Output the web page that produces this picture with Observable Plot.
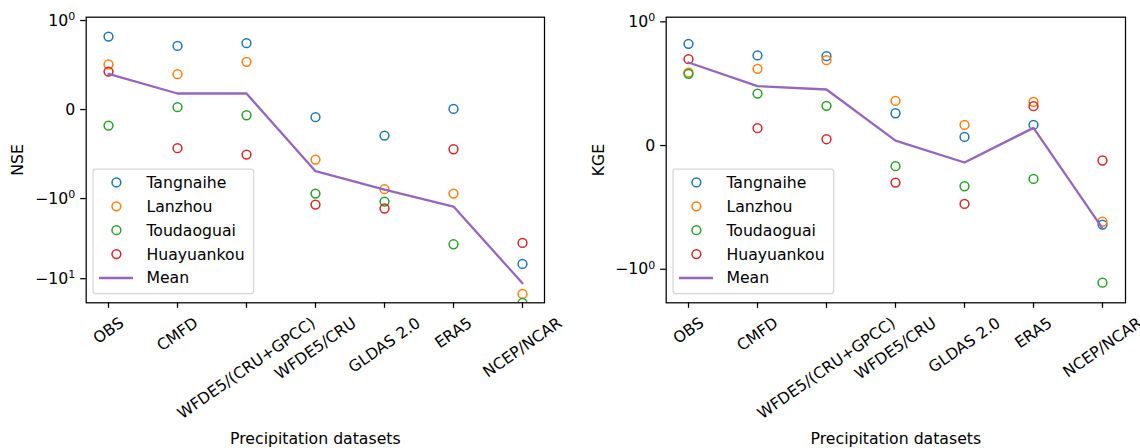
<!DOCTYPE html>
<html>
<head>
<meta charset="utf-8">
<script src="https://cdn.jsdelivr.net/npm/d3@7"></script>
<script src="https://cdn.jsdelivr.net/npm/@observablehq/plot@0.6"></script>
<style>
  html, body { margin: 0; padding: 0; background: #fff; }
  #root { display: flex; width: 1140px; height: 448px; }
  .panel { position: relative; width: 570px; height: 448px; }
  .panel svg.legend { position: absolute; }
</style>
</head>
<body>
<div id="root"></div>
<script>
// ---------- data ----------
const datasets = ["OBS", "CMFD", "WFDE5/(CRU+GPCC)", "WFDE5/CRU", "GLDAS 2.0", "ERA5", "NCEP/NCAR"];
const stations = ["Tangnaihe", "Lanzhou", "Toudaoguai", "Huayuankou"];
const stationColors = ["#1f77b4", "#ff7f0e", "#2ca02c", "#d62728"];
const meanLabel = "Mean";
const meanColor = "#9467bd";

// NSE values per station (order of datasets)
const nseTangnaihe  = [0.82, 0.715, 0.745, -0.086, -0.292, 0.007, -6.54];
const nseLanzhou    = [0.506, 0.397, 0.536, -0.562, -0.895, -0.944, -15.5];
const nseToudaoguai = [-0.18, 0.026, -0.064, -0.944, -1.09, -3.72, -20.0];
const nseHuayuankou = [0.427, -0.434, -0.506, -1.19, -1.33, -0.446, -3.58];
const nseMean       = [0.40, 0.18, 0.18, -0.693, -0.899, -1.26, -11.4];

// KGE values per station
const kgeTangnaihe  = [0.822, 0.728, 0.722, 0.261, 0.070, 0.167, -0.639];
const kgeLanzhou    = [0.590, 0.620, 0.690, 0.361, 0.167, 0.353, -0.615];
const kgeToudaoguai = [0.580, 0.420, 0.321, -0.167, -0.329, -0.270, -1.32];
const kgeHuayuankou = [0.698, 0.140, 0.051, -0.299, -0.472, 0.318, -0.121];
const kgeMean       = [0.671, 0.480, 0.453, 0.040, -0.137, 0.143, -0.67];

// axis ticks / limits
const nseTicks = [1, 0, -1, -10];
const nseTickLabels = ["10\u2070", "0", "\u221210\u2070", "\u221210\u00B9"];
const kgeTicks = [1, 0, -1];
const kgeTickLabels = ["10\u2070", "0", "\u221210\u2070"];
const nseLimits = [-20, 1.1];
const kgeLimits = [-2, 1.1];
const xTitle = "Precipitation datasets";

// ---------- symmetric log transform (linthresh 1, base 10, linscale 1) ----------
const LINADJ = 1 / (1 - 1 / 10);
function symlog(v) {
  const a = Math.abs(v);
  return a <= 1 ? v * LINADJ : Math.sign(v) * (LINADJ + Math.log10(a));
}

// ---------- styling ----------
const FONT = "DejaVu Sans";
const FS = 15.7;
const TICK = 5.5;
const PAD = 5.5;
const ROT = 35;

const ctx = document.createElement("canvas").getContext("2d");
ctx.font = `${FS}px "${FONT}"`;
const textW = s => ctx.measureText(s).width;
const SUP = {"\u2070": "0", "\u00B9": "1"};

function panel(cfg) {
  const rows = [];
  cfg.series.forEach((vals, si) => {
    vals.forEach((v, i) => rows.push({dataset: datasets[i], station: stations[si], value: v, t: symlog(v)}));
  });
  const meanRows = cfg.mean.map((v, i) => ({dataset: datasets[i], value: v, t: symlog(v)}));
  const tickPos = cfg.ticks.map(symlog);
  const tickMap = new Map(tickPos.map((t, i) => [t, cfg.tickLabels[i]]));

  const h = FS * 1.164;
  const rad = ROT * Math.PI / 180;
  const xLabelMarks = datasets.map(d => {
    const w = textW(d);
    const bh = w * Math.sin(rad) + h * Math.cos(rad);
    return Plot.text([d], {
      x: v => v, frameAnchor: "bottom", dy: TICK + PAD + bh / 2,
      rotate: -ROT, textAnchor: "middle", lineAnchor: "middle",
      fontSize: FS, fill: "black"
    });
  });

  const chart = Plot.plot({
    width: 570, height: 448,
    marginLeft: cfg.marginLeft, marginRight: cfg.marginRight,
    marginTop: 16.7, marginBottom: 448 - 302.3,
    style: {fontFamily: FONT, fontSize: FS + "px", color: "black", background: "white"},
    x: {type: "point", domain: datasets, padding: 0.3},
    y: {domain: cfg.limits.map(symlog)},
    color: {domain: stations, range: stationColors},
    marks: [
      Plot.dot(rows, {x: "dataset", y: "t", stroke: "station", r: 4.4, strokeWidth: 1.5, fill: "none", clip: true}),
      Plot.line(meanRows, {x: "dataset", y: "t", stroke: meanColor, strokeWidth: 2.3}),
      Plot.axisY({ticks: tickPos, tickFormat: t => tickMap.get(t), tickSize: TICK, tickPadding: PAD,
                  label: null, fontSize: FS, strokeWidth: 1.25, stroke: "black", fill: "black"}),
      Plot.axisX({ticks: datasets, tickFormat: () => "", tickSize: TICK, label: null, strokeWidth: 1.25, stroke: "black"}),
      Plot.frame({stroke: "black", strokeWidth: 1.25}),
      ...xLabelMarks,
      Plot.text([xTitle], {frameAnchor: "bottom", dy: 135.7, lineAnchor: "middle", fontSize: FS, fill: "black"}),
      Plot.text([cfg.ylabel], {frameAnchor: "left", dx: cfg.ylabelDx, rotate: -90, textAnchor: "middle",
                                lineAnchor: "middle", fontSize: FS, fill: "black"})
    ]
  });

  // render exponent of tick labels as a raised, smaller superscript (like mathtext)
  d3.select(chart).selectAll("text").each(function () {
    const el = d3.select(this);
    if (el.selectAll("tspan").size() > 0) return;
    const s = el.text();
    const m = /^(\u2212?10)([\u2070\u00B9])$/.exec(s);
    if (!m) return;
    el.text(null);
    el.append("tspan").text(m[1]);
    el.append("tspan").attr("font-size", FS * 0.7).attr("dy", -5.8).text(SUP[m[2]]);
  });

  const div = document.createElement("div");
  div.className = "panel";
  div.appendChild(chart);

  // legend (lower left inside the axes)
  const lw = 160.7, lh = 124.7;
  const leg = d3.create("svg").attr("class", "legend")
    .attr("width", lw + 2).attr("height", lh + 2)
    .style("left", (cfg.marginLeft + 7.6 - 1) + "px")
    .style("top", (302.3 - 8.3 - lh - 1) + "px");
  leg.append("rect").attr("x", 1).attr("y", 1).attr("width", lw).attr("height", lh)
    .attr("rx", 3).attr("fill", "white").attr("fill-opacity", 0.8)
    .attr("stroke", "#cccccc").attr("stroke-opacity", 0.8).attr("stroke-width", 1.25);
  const entries = stations.map((s, i) => ({label: s, color: stationColors[i], kind: "dot"}))
    .concat([{label: meanLabel, color: meanColor, kind: "line"}]);
  entries.forEach((e, i) => {
    const cy = 1 + 13.4 + i * 23.9;
    if (e.kind === "dot") {
      leg.append("circle").attr("cx", 1 + 23.4).attr("cy", cy).attr("r", 4.4)
        .attr("fill", "none").attr("stroke", e.color).attr("stroke-width", 1.5);
    } else {
      leg.append("line").attr("x1", 1 + 6).attr("x2", 1 + 40).attr("y1", cy).attr("y2", cy)
        .attr("stroke", e.color).attr("stroke-width", 2.3);
    }
    leg.append("text").attr("x", 1 + 53.4).attr("y", cy).attr("dy", "0.35em")
      .attr("font-family", FONT).attr("font-size", FS).attr("fill", "black").text(e.label);
  });
  div.appendChild(leg.node());
  return div;
}

const root = document.getElementById("root");
root.appendChild(panel({
  series: [nseTangnaihe, nseLanzhou, nseToudaoguai, nseHuayuankou],
  mean: nseMean, ticks: nseTicks, tickLabels: nseTickLabels, limits: nseLimits,
  ylabel: "NSE", marginLeft: 85.7, marginRight: 26, ylabelDx: -68.7
}));
root.appendChild(panel({
  series: [kgeTangnaihe, kgeLanzhou, kgeToudaoguai, kgeHuayuankou],
  mean: kgeMean, ticks: kgeTicks, tickLabels: kgeTickLabels, limits: kgeLimits,
  ylabel: "KGE", marginLeft: 95.7, marginRight: 15, ylabelDx: -67.7
}));
</script>
</body>
</html>
